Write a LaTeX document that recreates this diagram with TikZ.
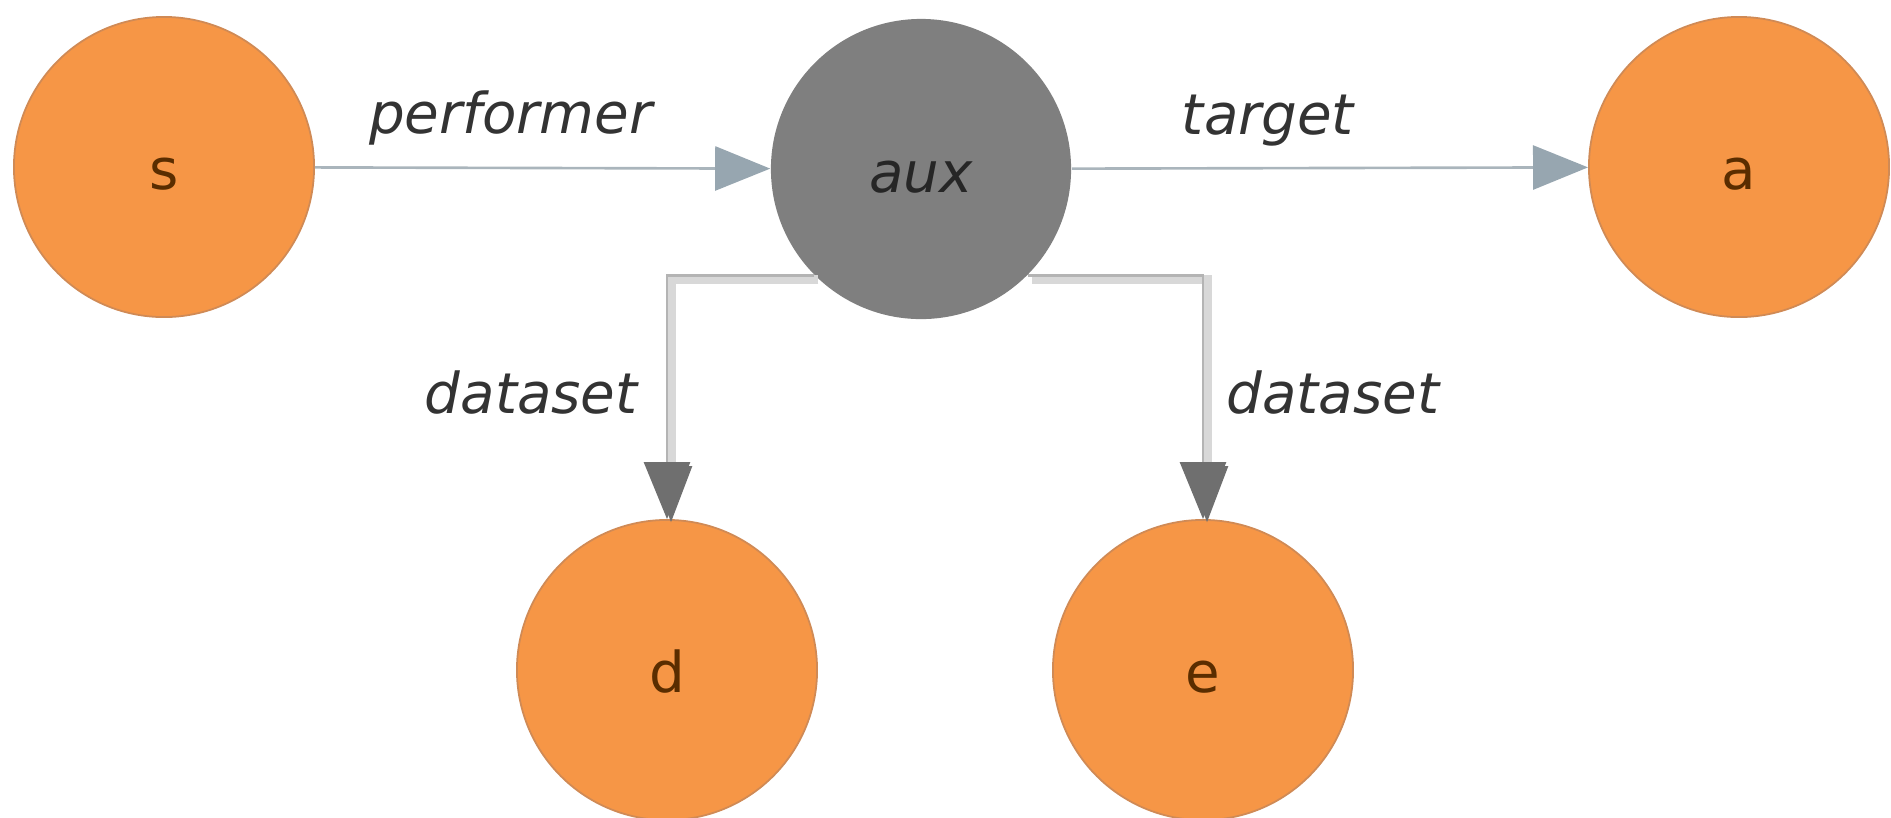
\documentclass[tikz,border=0pt]{standalone}
\usepackage{fontspec}
\setmainfont{DejaVu Sans}
\usetikzlibrary{arrows.meta,positioning}
\definecolor{entityfill}{HTML}{F69646}
\definecolor{entityrim}{HTML}{D08A55}
\definecolor{entitytext}{HTML}{5A2D00}
\definecolor{auxfill}{HTML}{7F7F7F}
\definecolor{roleline}{HTML}{AAB5BC}
\definecolor{roletip}{HTML}{97A6B0}
\definecolor{dataline}{HTML}{B4B4B4}
\definecolor{datashade}{HTML}{D8D8D8}
\definecolor{datatip}{HTML}{6F6F6F}

\begin{document}
\begin{tikzpicture}[x=0.01cm,y=-0.01cm,
    entity/.style={circle, minimum size=3cm, inner sep=0pt, text height=0.44cm, text depth=0pt, fill=entityfill, draw=entityrim, line width=0.5pt, text=entitytext, font=\fontsize{16}{19}\selectfont},
    auxnode/.style={circle, minimum size=3cm, inner sep=0pt, text height=0.46cm, text depth=0pt, fill=auxfill, text=black!85, font=\fontsize{16}{19}\selectfont\itshape},
    roleedge/.style={draw=roleline, line width=0.75pt, -{Triangle[length=0.55cm,width=0.44cm,color=roletip]}},
    dataedge/.style={draw=dataline, line width=0.8pt, -{Triangle[length=0.57cm,width=0.46cm,color=datatip]}},
    datashadow/.style={draw=datashade, line width=0.09cm, transform canvas={shift={(0.04cm,-0.04cm)}}, -{Triangle[length=0.57cm,width=0.40cm,color=datatip]}},
    rolelabel/.style={inner sep=0pt, text=black!80, font=\fontsize{16}{19}\selectfont\itshape}]
    \useasboundingbox (0,0) rectangle (1891,817);

    \node[entity] (s) at (164,167) {s};
    \node[auxnode] (aux) at (921,169) {aux};
    \node[entity] (a) at (1739,167) {a};
    \node[entity] (d) at (667,670) {d};
    \node[entity] (e) at (1203,670) {e};

    % performer / target
    \draw[roleedge] (s) -- node[rolelabel, pos=0.43, anchor=base, yshift=0.34cm] {performer} (aux);
    \draw[roleedge] (aux) -- node[rolelabel, pos=0.38, anchor=base, yshift=0.34cm] {target} (a);

    % dataset links
    \draw[datashadow] (aux.225) -| (d.north);
    \draw[datashadow] (aux.-45) -| (e.north);
    \draw[dataedge] (aux.225) -| node[rolelabel, pos=0.74, left=0.28cm] {dataset} (d.north);
    \draw[dataedge] (aux.-45) -| node[rolelabel, pos=0.74, right=0.22cm] {dataset} (e.north);
\end{tikzpicture}
\end{document}
